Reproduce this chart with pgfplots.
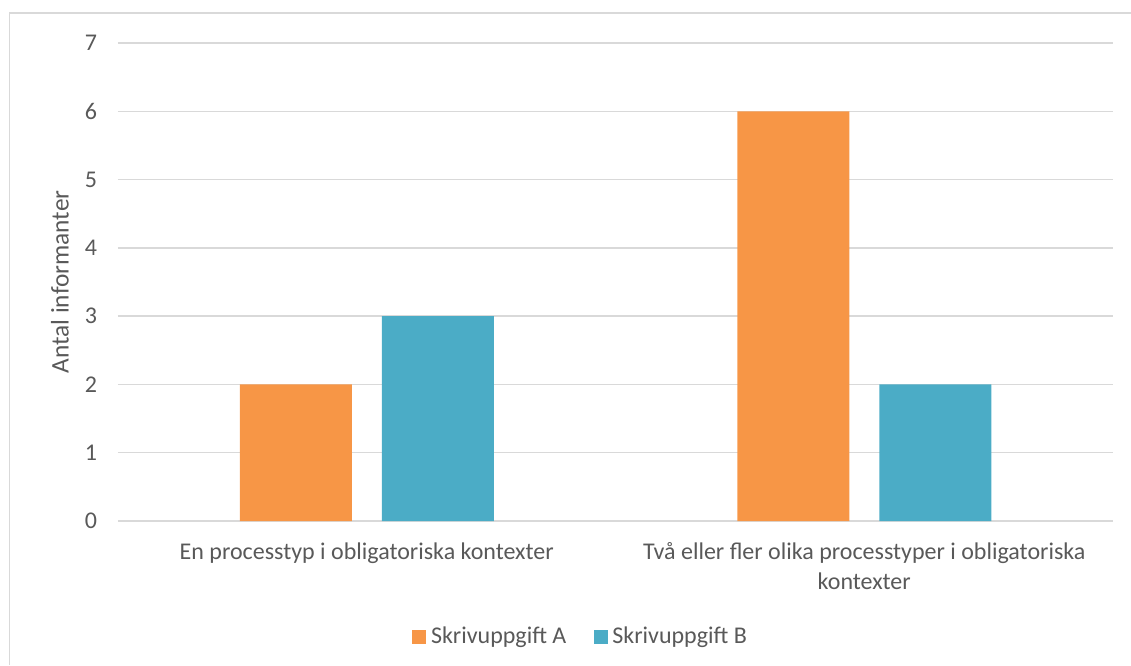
\documentclass[border=0pt]{standalone}
\usepackage{fontspec}
\setmainfont{Carlito}
\usepackage{pgfplots}
\pgfplotsset{compat=1.18}
\definecolor{barA}{HTML}{F79646}
\definecolor{barB}{HTML}{4BACC6}
\definecolor{txt}{HTML}{595959}
\definecolor{gridc}{HTML}{D9D9D9}
\begin{document}
\fontsize{18}{22.5}\selectfont
\begin{tikzpicture}
\useasboundingbox (0pt,0pt) rectangle (848.25pt,498.75pt);
% chart frame (top and left edges)
\draw[gridc, line width=1.2pt] (7.125pt,0pt) -- (7.125pt,489pt) -- (848.25pt,489pt);
\begin{axis}[
  at={(88.5pt,108pt)}, anchor=south west,
  scale only axis, width=746.25pt, height=358.5pt,
  ybar, bar width=84pt, ybar=22.5pt,
  xmin=-0.5, xmax=1.5, ymin=0, ymax=7,
  xtick={0,1}, ytick={0,1,...,7},
  xticklabels={En processtyp i obligatoriska kontexter,
               {Två eller fler olika processtyper i obligatoriska\\kontexter}},
  xticklabel style={align=center, inner sep=0pt, anchor=north, yshift=-16pt, text=txt, font=\fontsize{18}{22.5}\selectfont},
  yticklabel style={inner sep=0pt, anchor=east, xshift=-15.5pt, text=txt, font=\fontsize{18}{22.5}\selectfont},
  /pgf/number format/assume math mode=true,
  axis line style={draw=none},
  major tick length=0pt,
  ymajorgrids, grid style={gridc, line width=1.1pt},
  ylabel={Antal informanter},
  ylabel style={at={(axis description cs:-0.0583,0.5)}, anchor=center, text=txt, font=\fontsize{19}{22}\selectfont},
  legend columns=2,
  legend style={at={(axis description cs:0.4663,-0.2426)}, anchor=center, draw=none, fill=none,
    font=\fontsize{18}{22.5}\selectfont, text=txt,
    /tikz/every even column/.append style={column sep=17pt},
    nodes={inner sep=0pt, inner xsep=3.5pt}},
  legend image code/.code={\fill[#1,draw=none] (0pt,-5.25pt) rectangle (10.5pt,5.25pt);},
]
\addplot[fill=barA, draw=none] coordinates {(0,2) (1,6)};
\addplot[fill=barB, draw=none] coordinates {(0,3) (1,2)};
\legend{Skrivuppgift A, Skrivuppgift B}
\end{axis}
\end{tikzpicture}
\end{document}
